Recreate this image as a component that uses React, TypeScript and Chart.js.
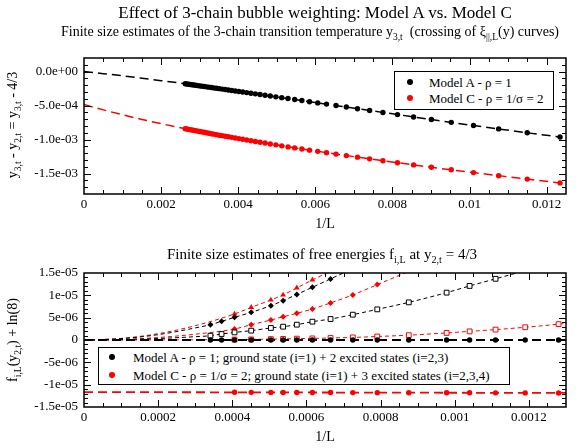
import React, { useEffect, useRef } from "react";
import { Chart, registerables } from "chart.js";

Chart.register(...registerables);

const SERIF = "'Liberation Serif', 'Times New Roman', Times, serif";
const RED = "#ff0000";
const BLACK = "#000000";

// ---------------- Top panel: y3,t - 4/3 versus 1/L ----------------
const TOP_INV_L = [
  0.002625, 0.002667, 0.00271, 0.002755, 0.002801, 0.002849, 0.002899, 0.00295, 0.003003,
  0.003058, 0.003115, 0.003175, 0.003236, 0.0033, 0.003367, 0.003436,
  0.003509, 0.003584, 0.003663, 0.003745, 0.003831, 0.003922, 0.004016,
  0.004115, 0.004219, 0.004329, 0.004444, 0.004566, 0.004695, 0.004831,
  0.004975, 0.005128, 0.005291, 0.005464, 0.00565,
  0.005848, 0.006061, 0.006289, 0.006536, 0.006803, 0.007092,
  0.007407, 0.007752, 0.00813, 0.008547, 0.009009, 0.009524,
  0.010101, 0.010753, 0.011494, 0.012346,
];
const TOP_MODEL_A = [
  -1.79e-4, -1.82e-4, -1.86e-4, -1.9e-4, -1.93e-4, -1.97e-4, -2.01e-4, -2.06e-4, -2.1e-4,
  -2.14e-4, -2.19e-4, -2.24e-4, -2.29e-4, -2.34e-4, -2.4e-4, -2.45e-4,
  -2.51e-4, -2.57e-4, -2.64e-4, -2.7e-4, -2.77e-4, -2.85e-4, -2.92e-4,
  -3.0e-4, -3.09e-4, -3.18e-4, -3.27e-4, -3.37e-4, -3.48e-4, -3.59e-4,
  -3.71e-4, -3.83e-4, -3.96e-4, -4.11e-4, -4.26e-4,
  -4.43e-4, -4.6e-4, -4.78e-4, -4.98e-4, -5.2e-4, -5.46e-4,
  -5.72e-4, -6.01e-4, -6.32e-4, -6.67e-4, -7.05e-4, -7.46e-4,
  -7.93e-4, -8.43e-4, -9.0e-4, -9.62e-4,
];
const TOP_MODEL_C = [
  -8.39e-4, -8.44e-4, -8.49e-4, -8.54e-4, -8.59e-4, -8.64e-4, -8.7e-4, -8.75e-4, -8.81e-4,
  -8.87e-4, -8.93e-4, -9.0e-4, -9.06e-4, -9.13e-4, -9.2e-4, -9.27e-4,
  -9.35e-4, -9.42e-4, -9.5e-4, -9.58e-4, -9.67e-4, -9.76e-4, -9.85e-4,
  -9.95e-4, -10.06e-4, -10.16e-4, -10.28e-4, -10.39e-4, -10.51e-4, -10.64e-4,
  -10.77e-4, -10.92e-4, -11.07e-4, -11.22e-4, -11.38e-4,
  -11.55e-4, -11.73e-4, -11.92e-4, -12.13e-4, -12.35e-4, -12.58e-4,
  -12.83e-4, -13.11e-4, -13.4e-4, -13.72e-4, -14.07e-4, -14.44e-4,
  -14.85e-4, -15.31e-4, -15.81e-4, -16.37e-4,
];
const TOP_FIT_X = [0, 0.0005, 0.001, 0.0015, 0.002, 0.002625, 0.003003, 0.004016, 0.004975, 0.006061, 0.007092, 0.00813, 0.009009, 0.010101, 0.011494, 0.012346];
const TOP_FIT_A = [0, -0.3e-4, -0.62e-4, -0.97e-4, -1.33e-4, -1.79e-4, -2.1e-4, -2.92e-4, -3.71e-4, -4.6e-4, -5.46e-4, -6.32e-4, -7.05e-4, -7.93e-4, -9.0e-4, -9.62e-4];
const TOP_FIT_C = [-4.85e-4, -5.63e-4, -6.35e-4, -7.03e-4, -7.66e-4, -8.39e-4, -8.81e-4, -9.85e-4, -10.77e-4, -11.73e-4, -12.58e-4, -13.4e-4, -14.07e-4, -14.85e-4, -15.81e-4, -16.37e-4];

const TOP_X_TICKS = [0, 0.002, 0.004, 0.006, 0.008, 0.01, 0.012];
const TOP_X_LABELS = ["0", "0.002", "0.004", "0.006", "0.008", "0.01", "0.012"];
const TOP_Y_TICKS = [-0.0015, -0.001, -0.0005, 0];
const TOP_Y_LABELS = ["-1.5e-03", "-1.0e-03", "-5.0e-04", "0.0e+00"];
const TOP_LEGEND = ["Model A - \u03c1 = 1", "Model C - \u03c1 = 1/\u03c3 = 2"];

// ---------------- Bottom panel: free energies versus 1/L ----------------
const BOT_INV_L_A = [0.000341, 0.000371, 0.000406, 0.000451, 0.000504, 0.000537, 0.000574, 0.000616, 0.000665, 0.000725, 0.000791, 0.000876, 0.000978, 0.00104, 0.00111, 0.00119, 0.00128];
const BOT_INV_L_C = [0.000406, 0.000451, 0.000504, 0.000537, 0.000574, 0.000616, 0.000665, 0.000725, 0.000791, 0.000876, 0.000978, 0.00104, 0.00111, 0.00119, 0.00128];

const BOT_A_GROUND = [0, 0, 0, 0, 0, 0, 0, 0, 0, 0, 0, 0, 0, 0, 0, 0, 0];
const BOT_A_EXC2 = [3.43e-6, 4.17e-6, 5.07e-6, 6.19e-6, 7.69e-6, 8.81e-6, 10.2e-6, 11.8e-6, 13.68e-6, null, null, null, null, null, null, null, null];
const BOT_A_EXC3 = [0.96e-6, 1.34e-6, 1.7e-6, 2.09e-6, 2.69e-6, 2.98e-6, 3.43e-6, 4.1e-6, 4.7e-6, 5.67e-6, 6.86e-6, 8.43e-6, 10.6e-6, 12.1e-6, 13.7e-6, null, null];

const BOT_C_GROUND = [-11.7e-6, -11.72e-6, -11.73e-6, -11.74e-6, -11.75e-6, -11.76e-6, -11.77e-6, -11.78e-6, -11.79e-6, -11.8e-6, -11.81e-6, -11.82e-6, -11.83e-6, -11.84e-6, -11.85e-6];
const BOT_C_EXC2 = [5.83e-6, 7.3e-6, 8.97e-6, 10.09e-6, 11.66e-6, 13.45e-6, null, null, null, null, null, null, null, null, null];
const BOT_C_EXC3 = [2.47e-6, 3.43e-6, 4.48e-6, 5.2e-6, 5.97e-6, 6.95e-6, 8.3e-6, 10.09e-6, 12.4e-6, null, null, null, null, null, null];
const BOT_C_EXC4 = [0.1e-6, 0.14e-6, 0.2e-6, 0.24e-6, 0.3e-6, 0.36e-6, 0.45e-6, 0.58e-6, 0.78e-6, 1.08e-6, 1.58e-6, 1.93e-6, 2.33e-6, 2.85e-6, 3.55e-6];

// fitted curves: start near 1/L = 0, then through the data, then a last point past the frame
const FIT_HEAD_X = [0, 0.0001, 0.0002, 0.0003];
const FIT_A2_HEAD = [0, 0.3e-6, 1.2e-6, 2.7e-6];
const FIT_A3_HEAD = [0, 0.08e-6, 0.33e-6, 0.74e-6];
const FIT_C2_HEAD = [0, 0.36e-6, 1.42e-6, 3.2e-6];
const FIT_C3_HEAD = [0, 0.12e-6, 0.55e-6, 1.3e-6];
const FIT_C4_HEAD = [0, 0, 0.02e-6, 0.05e-6];
const FIT_A2_TAIL = [0.00072, 15.8e-6];
const FIT_A3_TAIL = [0.00118, 15.3e-6];
const FIT_C2_TAIL = [0.00067, 15.6e-6];
const FIT_C3_TAIL = [0.00088, 15.5e-6];
const FIT_C4_TAIL = [0.0013, 3.75e-6];
const GROUND_FIT_X = [0, 0.0013];
const FIT_A1 = [0, 0];
const FIT_C1 = [-11.65e-6, -11.86e-6];

const BOT_X_TICKS = [0, 0.0002, 0.0004, 0.0006, 0.0008, 0.001, 0.0012];
const BOT_X_LABELS = ["0", "0.0002", "0.0004", "0.0006", "0.0008", "0.001", "0.0012"];
const BOT_Y_TICKS = [-1.5e-5, -1e-5, -5e-6, 0, 5e-6, 1e-5, 1.5e-5];
const BOT_Y_LABELS = ["-1.5e-05", "-1e-05", "-5e-06", "0", "5e-06", "1e-05", "1.5e-05"];
const BOT_LEGEND = [
  "Model A - \u03c1 = 1; ground state (i=1) + 2 excited states (i=2,3)",
  "Model C - \u03c1 = 1/\u03c3 = 2; ground state (i=1) + 3 excited states (i=2,3,4)",
];

// ---------------- helpers ----------------
const pts = (xs: number[], ys: (number | null)[]) =>
  xs.map((x, i) => ({ x, y: ys[i] })).filter((p) => p.y !== null && p.y !== undefined) as { x: number; y: number }[];

const fitPts = (head: number[], data: { x: number; y: number }[], tail: number[]) => [
  ...FIT_HEAD_X.map((x, i) => ({ x, y: head[i] })),
  ...data,
  { x: tail[0], y: tail[1] },
];

function makeFrame(xMajor: number[], xStep: number, yMajor: number[], yStep: number) {
  return {
    id: "graceFrame",
    afterDatasetsDraw(chart: any) {
      const { ctx, chartArea: a } = chart;
      const xs = chart.scales.x;
      const ys = chart.scales.y;
      ctx.save();
      ctx.strokeStyle = BLACK;
      ctx.lineWidth = 1;
      ctx.beginPath();
      const isMajor = (arr: number[], v: number, step: number) => arr.some((m) => Math.abs(m - v) < step * 1e-3);
      const nx = Math.round((xs.max - xs.min) / xStep);
      for (let i = 0; i <= nx; i++) {
        const v = xs.min + i * xStep;
        const p = Math.round(xs.getPixelForValue(v)) + 0.5;
        if (p <= a.left + 1 || p >= a.right - 1) continue;
        const len = isMajor(xMajor, v, xStep) ? 7 : 4;
        ctx.moveTo(p, a.bottom);
        ctx.lineTo(p, a.bottom - len);
        ctx.moveTo(p, a.top);
        ctx.lineTo(p, a.top + len);
      }
      const ny = Math.round((ys.max - ys.min) / yStep);
      for (let i = 0; i <= ny; i++) {
        const v = ys.min + i * yStep;
        const p = Math.round(ys.getPixelForValue(v)) + 0.5;
        if (p <= a.top + 1 || p >= a.bottom - 1) continue;
        const len = isMajor(yMajor, v, yStep) ? 7 : 4;
        ctx.moveTo(a.left, p);
        ctx.lineTo(a.left + len, p);
        ctx.moveTo(a.right, p);
        ctx.lineTo(a.right - len, p);
      }
      ctx.stroke();
      ctx.lineWidth = 1.5;
      ctx.strokeRect(a.left, a.top, a.right - a.left, a.bottom - a.top);
      ctx.restore();
    },
  };
}

function axisX(min: number, max: number, ticks: number[], labels: string[], height: number, titlePad: number) {
  return {
    type: "linear" as const,
    min,
    max,
    afterBuildTicks: (s: any) => {
      s.ticks = ticks.map((value) => ({ value }));
    },
    afterFit: (s: any) => {
      s.height = height;
    },
    ticks: {
      callback: (_v: any, i: number) => labels[i],
      font: { family: SERIF, size: 13 },
      color: BLACK,
      padding: 3,
      maxRotation: 0,
      autoSkip: false,
    },
    grid: { display: false, drawTicks: false },
    border: { display: false },
    title: {
      display: true,
      text: "1/L",
      font: { family: SERIF, size: 14 },
      color: BLACK,
      padding: { top: 0, bottom: titlePad },
    },
  };
}

function axisY(min: number, max: number, ticks: number[], labels: string[]) {
  return {
    type: "linear" as const,
    min,
    max,
    afterBuildTicks: (s: any) => {
      s.ticks = ticks.map((value) => ({ value }));
    },
    afterFit: (s: any) => {
      s.width = 84;
    },
    ticks: {
      callback: (_v: any, i: number) => labels[i],
      font: { family: SERIF, size: 13 },
      color: BLACK,
      padding: 6,
      autoSkip: false,
    },
    grid: { display: false, drawTicks: false },
    border: { display: false },
  };
}

type Part = string | { sub: string };

function Rich({ parts }: { parts: Part[] }) {
  return (
    <>
      {parts.map((p, i) =>
        typeof p === "string" ? (
          <span key={i}>{p}</span>
        ) : (
          <span key={i} style={{ fontSize: "0.68em", position: "relative", top: "0.38em" }}>
            {p.sub}
          </span>
        )
      )}
    </>
  );
}

function Label({ x, y, size, rotate, parts }: { x: number; y: number; size: number; rotate?: boolean; parts: Part[] }) {
  return (
    <div
      style={{
        position: "absolute",
        left: x,
        top: y,
        transform: `translate(-50%, -50%)${rotate ? " rotate(-90deg)" : ""}`,
        fontFamily: SERIF,
        fontSize: size,
        lineHeight: 1,
        whiteSpace: "pre",
        color: BLACK,
      }}
    >
      <Rich parts={parts} />
    </div>
  );
}

function Dot({ left, top, color }: { left: number; top: number; color: string }) {
  return (
    <span
      style={{
        position: "absolute",
        left: left - 3,
        top: top - 3,
        width: 6,
        height: 6,
        borderRadius: 3,
        background: color,
      }}
    />
  );
}

export default function App() {
  const topRef = useRef<HTMLCanvasElement | null>(null);
  const botRef = useRef<HTMLCanvasElement | null>(null);

  useEffect(() => {
    const topA = pts(TOP_INV_L, TOP_MODEL_A);
    const topC = pts(TOP_INV_L, TOP_MODEL_C);
    const top = new Chart(topRef.current as HTMLCanvasElement, {
      type: "scatter",
      data: {
        datasets: [
          { label: TOP_LEGEND[0], data: topA, backgroundColor: BLACK, borderColor: BLACK, pointRadius: 2.7, pointBorderWidth: 0 },
          { label: TOP_LEGEND[1], data: topC, backgroundColor: RED, borderColor: RED, pointRadius: 2.7, pointBorderWidth: 0 },
          {
            label: "fit A",
            data: pts(TOP_FIT_X, TOP_FIT_A),
            showLine: true,
            borderColor: BLACK,
            borderWidth: 1.5,
            borderDash: [9, 5],
            pointRadius: 0,
            cubicInterpolationMode: "monotone",
          },
          {
            label: "fit C",
            data: pts(TOP_FIT_X, TOP_FIT_C),
            showLine: true,
            borderColor: RED,
            borderWidth: 1.5,
            borderDash: [9, 5],
            pointRadius: 0,
            cubicInterpolationMode: "monotone",
          },
        ],
      },
      options: {
        responsive: false,
        animation: false,
        devicePixelRatio: 1,
        layout: { padding: { top: 58, right: 17, left: 0, bottom: 0 } },
        plugins: { legend: { display: false }, tooltip: { enabled: false }, title: { display: false } },
        scales: {
          x: axisX(0, 0.0125, TOP_X_TICKS, TOP_X_LABELS, 46, 7),
          y: axisY(-0.0018, 0.0002, TOP_Y_TICKS, TOP_Y_LABELS),
        },
      } as any,
      plugins: [makeFrame(TOP_X_TICKS, 0.0005, TOP_Y_TICKS, 0.0001)],
    });

    const aG = pts(BOT_INV_L_A, BOT_A_GROUND);
    const a2 = pts(BOT_INV_L_A, BOT_A_EXC2);
    const a3 = pts(BOT_INV_L_A, BOT_A_EXC3);
    const cG = pts(BOT_INV_L_C, BOT_C_GROUND);
    const c2 = pts(BOT_INV_L_C, BOT_C_EXC2);
    const c3 = pts(BOT_INV_L_C, BOT_C_EXC3);
    const c4 = pts(BOT_INV_L_C, BOT_C_EXC4);

    const fitLine = (data: any[], color: string, thick: boolean) => ({
      label: "fit",
      data,
      showLine: true,
      borderColor: color,
      borderWidth: thick ? 1.8 : 1,
      borderDash: thick ? [9, 5] : [4, 3],
      pointRadius: 0,
      cubicInterpolationMode: "monotone",
    });

    const bot = new Chart(botRef.current as HTMLCanvasElement, {
      type: "scatter",
      data: {
        datasets: [
          { label: BOT_LEGEND[0], data: aG, backgroundColor: BLACK, borderColor: BLACK, pointRadius: 2.7, pointBorderWidth: 0 },
          { label: "A i=2", data: a2, pointStyle: "rectRot", backgroundColor: BLACK, borderColor: BLACK, pointRadius: 3, pointBorderWidth: 0 },
          { label: "A i=3", data: a3, pointStyle: "rect", backgroundColor: "#ffffff", borderColor: BLACK, pointRadius: 3.4, pointBorderWidth: 1 },
          { label: BOT_LEGEND[1], data: cG, backgroundColor: RED, borderColor: RED, pointRadius: 2.7, pointBorderWidth: 0 },
          { label: "C i=2", data: c2, pointStyle: "triangle", backgroundColor: RED, borderColor: RED, pointRadius: 3.3, pointBorderWidth: 0 },
          { label: "C i=3", data: c3, pointStyle: "rectRot", backgroundColor: RED, borderColor: RED, pointRadius: 3, pointBorderWidth: 0 },
          { label: "C i=4", data: c4, pointStyle: "rect", backgroundColor: "#ffffff", borderColor: RED, pointRadius: 3.4, pointBorderWidth: 1 },
          fitLine(pts(GROUND_FIT_X, FIT_A1), BLACK, true),
          fitLine(fitPts(FIT_A2_HEAD, a2, FIT_A2_TAIL), BLACK, false),
          fitLine(fitPts(FIT_A3_HEAD, a3, FIT_A3_TAIL), BLACK, false),
          fitLine(pts(GROUND_FIT_X, FIT_C1), RED, true),
          fitLine(fitPts(FIT_C2_HEAD, c2, FIT_C2_TAIL), RED, false),
          fitLine(fitPts(FIT_C3_HEAD, c3, FIT_C3_TAIL), RED, false),
          fitLine(fitPts(FIT_C4_HEAD, c4, FIT_C4_TAIL), RED, false),
        ],
      },
      options: {
        responsive: false,
        animation: false,
        devicePixelRatio: 1,
        layout: { padding: { top: 33, right: 17, left: 0, bottom: 0 } },
        plugins: { legend: { display: false }, tooltip: { enabled: false }, title: { display: false } },
        scales: {
          x: axisX(0, 0.0013, BOT_X_TICKS, BOT_X_LABELS, 41, 2),
          y: axisY(-1.5e-5, 1.5e-5, BOT_Y_TICKS, BOT_Y_LABELS),
        },
      } as any,
      plugins: [makeFrame(BOT_X_TICKS, 0.00005, BOT_Y_TICKS, 1e-6)],
    });

    return () => {
      top.destroy();
      bot.destroy();
    };
  }, []);

  return (
    <div style={{ position: "absolute", left: 0, top: 0, width: 583, height: 448, background: "#ffffff", overflow: "hidden" }}>
      <canvas ref={topRef} width={583} height={240} style={{ position: "absolute", left: 0, top: 0, width: 583, height: 240 }} />
      <canvas ref={botRef} width={583} height={208} style={{ position: "absolute", left: 0, top: 240, width: 583, height: 208 }} />

      <Label x={315} y={12} size={17} parts={["Effect of 3-chain bubble weighting: Model A vs. Model C"]} />
      <Label
        x={310}
        y={32}
        size={14}
        parts={["Finite size estimates of the 3-chain transition temperature y", { sub: "3,t" }, "  (crossing of \u03be", { sub: "||,L" }, "(y) curves)"]}
      />
      <Label
        x={13}
        y={125}
        size={14}
        rotate
        parts={["y", { sub: "3,t" }, " - y", { sub: "2,t" }, " = y", { sub: "3,t" }, " - 4/3"]}
      />
      <Label
        x={322}
        y={254}
        size={15}
        parts={["Finite size estimates of free energies f", { sub: "i,L" }, " at y", { sub: "2,t" }, " = 4/3"]}
      />
      <Label x={13} y={340} size={14} rotate parts={["f", { sub: "i,L" }, "(y", { sub: "2,t" }, ") + ln(8)"]} />

      {/* top legend */}
      <div
        style={{
          position: "absolute",
          left: 394,
          top: 71,
          width: 160,
          height: 39,
          boxSizing: "border-box",
          border: "1.5px solid #000",
          background: "#fff",
          fontFamily: SERIF,
          fontSize: 13,
        }}
      >
        <Dot left={15} top={10} color={BLACK} />
        <Dot left={15} top={26} color={RED} />
        <div style={{ position: "absolute", left: 34, top: 10, transform: "translateY(-50%)", whiteSpace: "pre", lineHeight: 1 }}>{TOP_LEGEND[0]}</div>
        <div style={{ position: "absolute", left: 34, top: 26, transform: "translateY(-50%)", whiteSpace: "pre", lineHeight: 1 }}>{TOP_LEGEND[1]}</div>
      </div>

      {/* bottom legend */}
      <div
        style={{
          position: "absolute",
          left: 98,
          top: 347,
          width: 412,
          height: 38,
          boxSizing: "border-box",
          border: "1.5px solid #000",
          background: "#fff",
          fontFamily: SERIF,
          fontSize: 13,
        }}
      >
        <Dot left={13} top={9} color={BLACK} />
        <Dot left={13} top={27} color={RED} />
        <div style={{ position: "absolute", left: 34, top: 9, transform: "translateY(-50%)", whiteSpace: "pre", lineHeight: 1 }}>{BOT_LEGEND[0]}</div>
        <div style={{ position: "absolute", left: 34, top: 27, transform: "translateY(-50%)", whiteSpace: "pre", lineHeight: 1 }}>{BOT_LEGEND[1]}</div>
      </div>
    </div>
  );
}
